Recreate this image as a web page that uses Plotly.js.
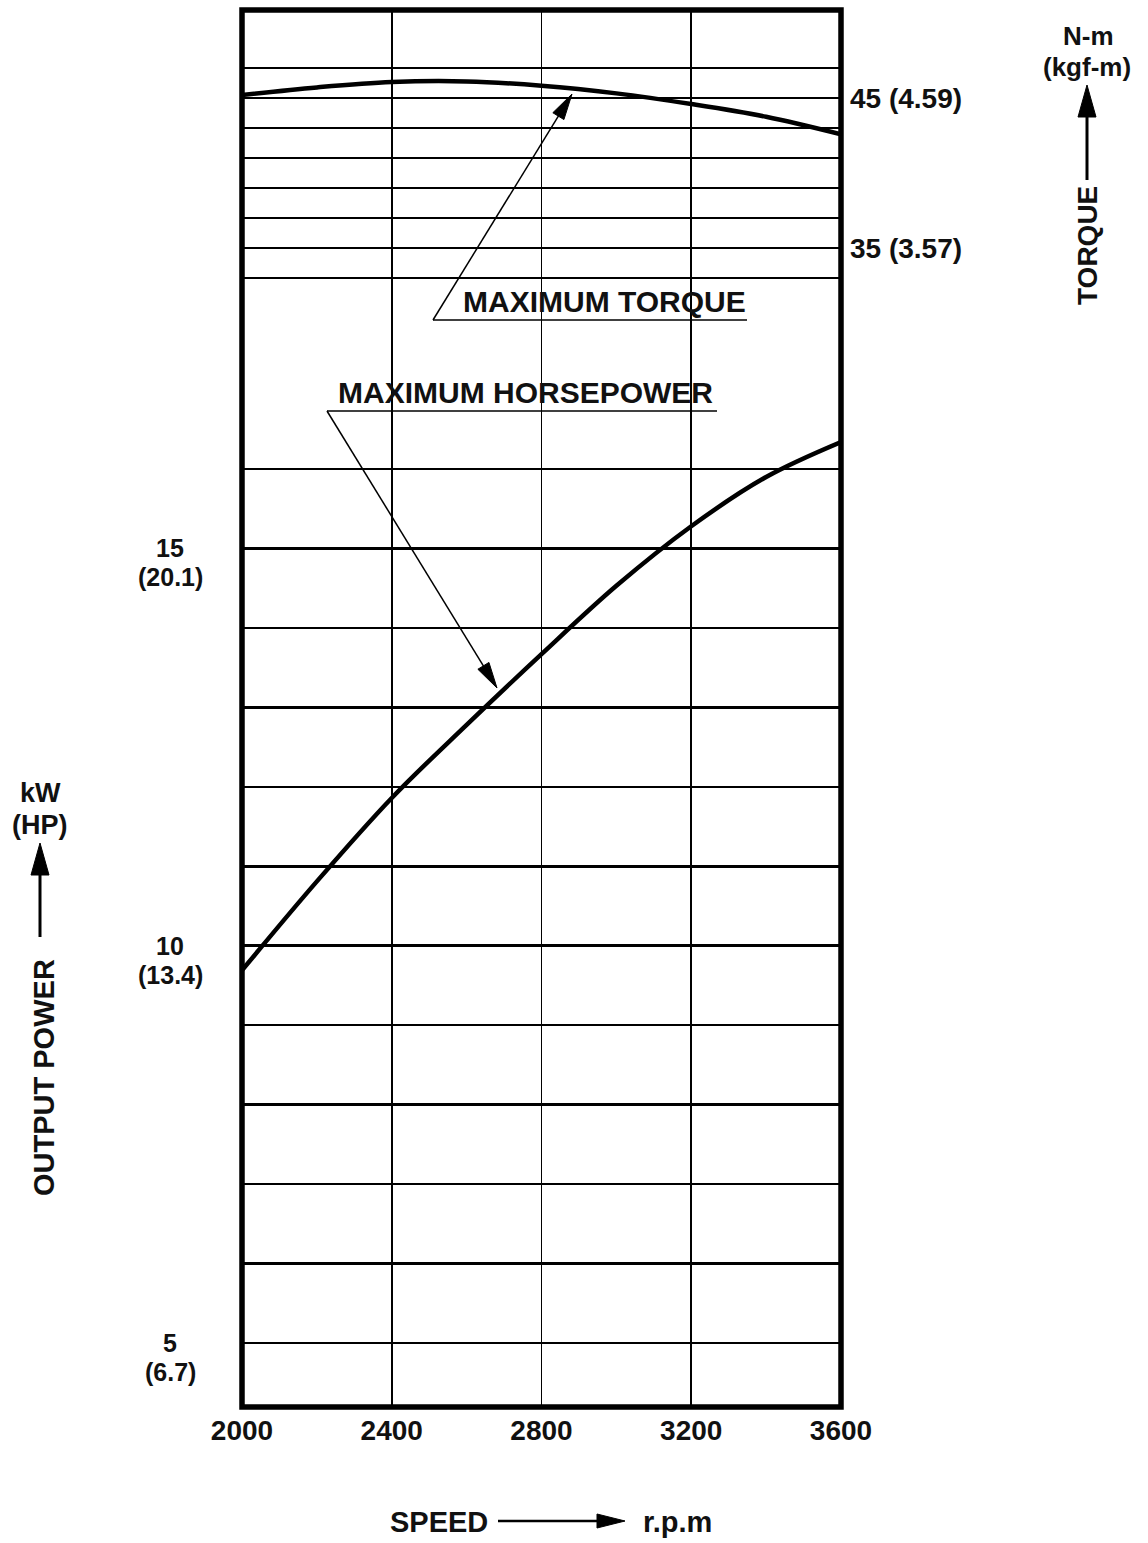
<!DOCTYPE html>
<html><head><meta charset="utf-8">
<script src="https://cdn.plot.ly/plotly-3.0.1.min.js"></script>
<style>html,body{margin:0;padding:0;background:#fff}#chart{width:1148px;height:1543px}</style>
</head><body><div id="chart"></div>
<script>
// ---- data ----
const speedRpm  = [2000, 2200, 2400, 2600, 2800, 3000, 3200, 3400, 3600];
const powerKw   = [9.69, 10.81, 11.86, 12.78, 13.67, 14.53, 15.28, 15.90, 16.34];
const torqueNm  = [45.20, 45.71, 46.07, 46.11, 45.82, 45.31, 44.60, 43.75, 42.58];
const speedTicks = [2000, 2400, 2800, 3200, 3600];
const powerGrid = [5, 6, 7, 8, 9, 10, 11, 12, 13, 14, 15, 16];
const powerLabelVals = [5, 10, 15];
const powerLabelHp = ['(6.7)', '(13.4)', '(20.1)'];
const torqueGrid = [33, 35, 37, 39, 41, 43, 45, 47];
const torqueLabelVals = [35, 45];
const torqueLabelText = ['35 (3.57)', '45 (4.59)'];

// ---- geometry ----
const W = 1148, H = 1543;
const M = {l: 242, r: 307, t: 10, b: 136};
const PW = W - M.l - M.r, PH = H - M.t - M.b;
const fx = px => (px - M.l) / PW;
const fy = py => (H - M.b - py) / PH;
const FONT = 'Liberation Sans, Arial, Helvetica, sans-serif';
const bold = (size) => ({family: FONT, size: size, color: '#111', weight: 'bold'});

function arrow(x0, y0, x1, y1, len, wid, lw) {
  const dx = x1 - x0, dy = y1 - y0, d = Math.hypot(dx, dy);
  const ux = dx / d, uy = dy / d;
  const bx = x1 - ux * len, by = y1 - uy * len;
  const nx = -uy * wid / 2, ny = ux * wid / 2;
  return [
    {type: 'line', xref: 'paper', yref: 'paper', x0: fx(x0), y0: fy(y0), x1: fx(bx + ux * 2), y1: fy(by + uy * 2),
     line: {color: '#000', width: lw}, layer: 'above'},
    {type: 'path', xref: 'paper', yref: 'paper',
     path: `M${fx(x1)},${fy(y1)} L${fx(bx + nx)},${fy(by + ny)} L${fx(bx - nx)},${fy(by - ny)} Z`,
     fillcolor: '#000', line: {color: '#000', width: 1}, layer: 'above'}
  ];
}
function hline(x0, x1, y, lw) {
  return {type: 'line', xref: 'paper', yref: 'paper', x0: fx(x0), y0: fy(y), x1: fx(x1), y1: fy(y),
          line: {color: '#000', width: lw}, layer: 'above'};
}

const shapes = [
  {type: 'rect', xref: 'paper', yref: 'paper', x0: 0, y0: 0, x1: 1, y1: 1,
   line: {color: '#000', width: 5.5}, layer: 'above'},
  hline(433, 747, 320, 1.5),
  ...arrow(433, 320, 572, 94, 26, 13, 1.5),
  hline(327, 717, 411, 1.5),
  ...arrow(327, 411, 497, 688, 26, 13, 1.5),
  ...arrow(40, 937, 40, 843, 32, 18, 3),
  ...arrow(1087, 180, 1087, 85, 32, 18, 3),
  ...arrow(498, 1521, 625, 1521, 28, 14, 2.5)
];

function pann(px, py, text, size, extra) {
  return Object.assign({xref: 'paper', yref: 'paper', x: fx(px), y: fy(py), text: text,
    showarrow: false, xanchor: 'center', yanchor: 'middle', borderpad: 0, font: bold(size)}, extra || {});
}

const annotations = [
  pann(604, 301, 'MAXIMUM TORQUE', 30),
  pann(525, 392, 'MAXIMUM HORSEPOWER', 30),
  pann(40, 793, 'kW', 27),
  pann(40, 825, '(HP)', 27),
  pann(44, 1078, 'OUTPUT POWER', 29, {textangle: -90}),
  pann(1088, 36, 'N-m', 26),
  pann(1087, 67, '(kgf-m)', 26),
  pann(1088, 246, 'TORQUE', 28, {textangle: -90}),
  pann(439, 1522, 'SPEED', 29),
  pann(677, 1522, 'r.p.m', 29)
];
powerLabelVals.forEach((v, i) => {
  annotations.push({xref: 'paper', yref: 'y', x: fx(170), y: v, text: String(v), showarrow: false,
    xanchor: 'center', yanchor: 'middle', yshift: 0, borderpad: 0, font: bold(25)});
  annotations.push({xref: 'paper', yref: 'y', x: fx(170), y: v, text: powerLabelHp[i], showarrow: false,
    xanchor: 'center', yanchor: 'middle', yshift: -29, borderpad: 0, font: bold(25)});
});

const traces = [
  {x: speedRpm, y: torqueNm, yaxis: 'y2', type: 'scatter', mode: 'lines',
   line: {color: '#000', width: 4.5, shape: 'spline', smoothing: 1}, hoverinfo: 'skip', showlegend: false},
  {x: speedRpm, y: powerKw, yaxis: 'y', type: 'scatter', mode: 'lines',
   line: {color: '#000', width: 4.5, shape: 'spline', smoothing: 1}, hoverinfo: 'skip', showlegend: false}
];

const layout = {
  width: W, height: H, margin: M, showlegend: false,
  paper_bgcolor: '#fff', plot_bgcolor: '#fff',
  xaxis: {range: [2000, 3600], tickmode: 'array', tickvals: speedTicks, ticktext: speedTicks.map(String),
    showgrid: true, gridcolor: '#000', gridwidth: 1.6, zeroline: false, showline: false, ticks: '',
    tickfont: bold(28), ticklabelstandoff: 4, fixedrange: true},
  yaxis: {range: [4.194, 21.778], tickmode: 'array', tickvals: powerGrid, showticklabels: false,
    showgrid: true, gridcolor: '#000', gridwidth: 2.6, zeroline: false, showline: false, ticks: '', fixedrange: true},
  yaxis2: {range: [-42.27, 50.87], overlaying: 'y', side: 'right', tickmode: 'array', tickvals: torqueGrid,
    ticktext: torqueGrid.map(v => { const k = torqueLabelVals.indexOf(v); return k >= 0 ? torqueLabelText[k] : ''; }),
    showgrid: true, gridcolor: '#000', gridwidth: 2.6, zeroline: false, showline: false, ticks: '',
    tickfont: bold(28), ticklabelstandoff: 8, fixedrange: true},
  shapes: shapes,
  annotations: annotations
};

Plotly.newPlot('chart', traces, layout, {displayModeBar: false, staticPlot: true});
</script>
</body></html>
